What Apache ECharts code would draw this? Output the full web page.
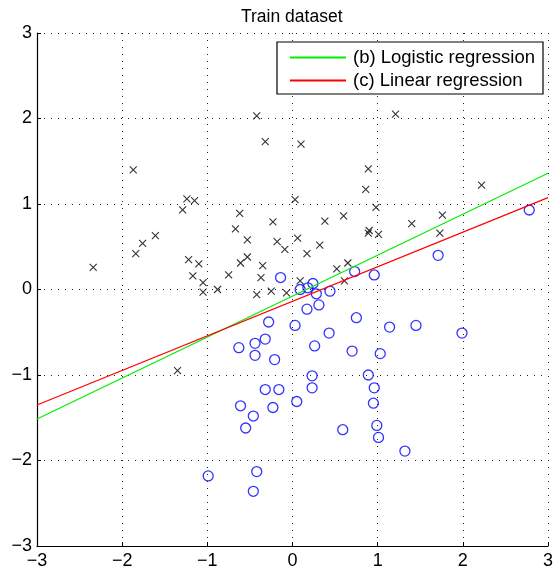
<!DOCTYPE html>
<html>
<head>
<meta charset="utf-8">
<script src="https://cdn.jsdelivr.net/npm/echarts@6/dist/echarts.min.js"></script>
<style>html,body{margin:0;padding:0;background:#fff;}#c{width:556px;height:575px;}</style>
</head>
<body>
<div id="c"></div>
<script>
// Class 1 (crosses)
const crossX = [-2.34,-1.87,-1.84,-1.76,-1.61,-1.29,-1.24,-1.15,-1.22,-1.10,-1.17,-1.05,-1.05,-0.88,-0.75,-0.61,-0.53,-0.67,-0.62,-0.53,-0.42,-0.32,-0.23,-0.18,-0.09,-0.35,-0.37,-0.42,-0.25,-0.07,0.03,0.06,0.10,1.21,0.89,0.86,0.98,0.38,0.60,0.32,0.17,0.89,0.90,1.01,1.40,1.76,1.73,2.22,0.52,0.65,0.61,0.09,-1.35];
const crossY = [0.26,1.40,0.42,0.54,0.63,0.93,1.06,1.04,0.35,0.30,0.16,0.08,-0.03,0.00,0.17,0.31,0.38,0.71,0.89,0.58,2.03,1.73,0.79,0.56,0.47,0.28,0.14,-0.06,-0.02,-0.04,1.05,0.60,1.70,2.05,1.41,1.17,0.96,0.80,0.86,0.52,0.42,0.66,0.69,0.645,0.77,0.87,0.66,1.22,0.24,0.31,0.10,0.10,-0.95];
// Class 0 (circles)
const circX = [-0.99,-0.42,-0.46,-0.63,-0.44,-0.44,-0.32,-0.28,-0.21,0.03,0.17,0.31,0.26,0.43,0.75,0.70,1.03,1.14,1.45,0.23,0.23,0.89,0.96,0.95,0.99,1.01,1.32,0.59,0.05,-0.32,-0.16,-0.23,-0.61,-0.46,-0.55,-0.14,0.09,0.18,0.24,0.28,0.44,0.73,0.96,1.71,2.78,1.99];
const circY = [-2.18,-2.13,-2.36,-0.68,-0.63,-0.77,-0.58,-0.38,-0.82,-0.42,-0.23,-0.18,-0.66,-0.51,-0.33,-0.72,-0.75,-0.44,-0.42,-1.01,-1.15,-1.00,-1.15,-1.33,-1.59,-1.73,-1.89,-1.64,-1.31,-1.17,-1.17,-1.38,-1.36,-1.48,-1.62,0.14,0.00,0.02,0.07,-0.05,-0.02,0.21,0.17,0.40,0.93,-0.51];
// Decision boundaries
const lineX = [-3, 3];
const logisticY = [-1.515, 1.359];
const linearY = [-1.351, 1.074];
const ticks = [-3, -2, -1, 0, 1, 2, 3];

const zip = (a, b) => a.map((v, i) => [v, b[i]]);
const font = '"Liberation Sans", Arial, Helvetica, sans-serif';
const fmt = v => String(v).replace('-', '\u2212');

const axisCommon = {
  type: 'value', min: ticks[0], max: ticks[ticks.length - 1], interval: 1,
  axisLine: { show: true, onZero: false, lineStyle: { color: '#000', width: 1.2 } },
  axisTick: { show: true, inside: true, length: 4, lineStyle: { color: '#000' } },
  splitLine: { show: true, lineStyle: { color: '#222', width: 1, type: [1, 6] } },
  axisLabel: { color: '#000', fontSize: 18, fontFamily: font, formatter: fmt }
};

const chart = echarts.init(document.getElementById('c'), null, { renderer: 'canvas' });
chart.setOption({
  animation: false,
  backgroundColor: '#fff',
  title: {
    text: 'Train dataset', left: 236, top: 3,
    textStyle: { fontFamily: font, fontSize: 17.5, fontWeight: 'normal', color: '#000' }
  },
  grid: { left: 37, right: 6, top: 33, bottom: 29, containLabel: false },
  xAxis: Object.assign({}, axisCommon, { axisLabel: Object.assign({}, axisCommon.axisLabel, { margin: 6 }) }),
  yAxis: Object.assign({}, axisCommon, { axisLabel: Object.assign({}, axisCommon.axisLabel, { margin: 5 }) }),
  legend: {
    orient: 'vertical', left: 277, top: 42,
    padding: [6, 8, 4, 12], itemGap: 4, itemWidth: 56, itemHeight: 14,
    backgroundColor: '#fff', borderColor: '#000', borderWidth: 1.2, borderRadius: 0,
    itemStyle: { opacity: 0 },
    textStyle: { fontFamily: font, fontSize: 18.5, color: '#000', padding: [0, 0, 0, 2] },
    data: ['(b) Logistic regression', '(c) Linear regression']
  },
  series: [
    {
      type: 'scatter', name: 'y=1', data: zip(crossX, crossY),
      symbol: 'path://M0,0L10,10M10,0L0,10', symbolSize: 7,
      itemStyle: { color: 'none', borderColor: '#000', borderWidth: 1.1 }, z: 3
    },
    {
      type: 'scatter', name: 'y=0', data: zip(circX, circY),
      symbol: 'circle', symbolSize: 10,
      itemStyle: { color: 'rgba(0,0,0,0)', borderColor: '#0000ff', borderWidth: 1.3 }, z: 3
    },
    {
      type: 'line', name: '(b) Logistic regression', data: zip(lineX, logisticY),
      symbol: 'none', lineStyle: { color: '#00ee00', width: 1.2 }, itemStyle: { color: '#00ee00' }, z: 4
    },
    {
      type: 'line', name: '(c) Linear regression', data: zip(lineX, linearY),
      symbol: 'none', lineStyle: { color: '#ff0000', width: 1.2 }, itemStyle: { color: '#ff0000' }, z: 4
    }
  ]
});
</script>
</body>
</html>
